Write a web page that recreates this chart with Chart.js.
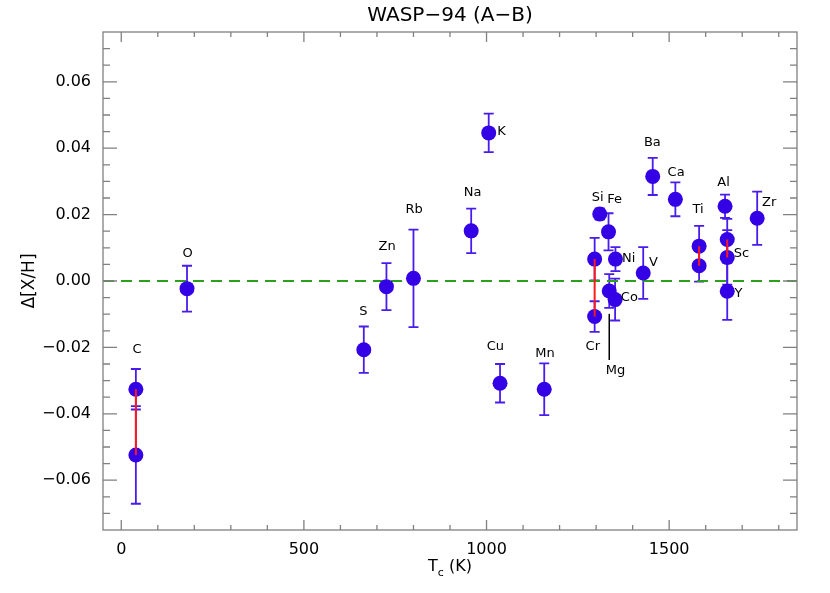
<!DOCTYPE html>
<html>
<head>
<meta charset="utf-8">
<script src="https://cdn.jsdelivr.net/npm/chart.js@4"></script>
<style>
  body { margin: 0; background: #fff; }
</style>
</head>
<body>
<canvas id="myChart" width="830" height="593"></canvas>
<script>
// one entry per measured point (elements with two values appear twice)
const elements = ['C', 'C', 'O', 'S', 'Zn', 'Rb', 'Na', 'K', 'Cu', 'Mn', 'Cr', 'Cr', 'Si', 'Fe', 'Mg', 'Co', 'Ni', 'V', 'Ba', 'Ca', 'Ti', 'Ti', 'Al', 'Sc', 'Sc', 'Y', 'Zr'];
const tc = [40, 40, 180, 664, 726, 800, 958, 1006, 1037, 1158, 1296, 1296, 1310, 1334, 1336, 1352, 1353, 1429, 1455, 1517, 1582, 1582, 1653, 1659, 1659, 1659, 1741];
const dXH = [-0.0326, -0.0524, -0.0023, -0.0207, -0.0017, 0.0008, 0.0151, 0.0446, -0.0308, -0.0326, 0.0066, -0.0107, 0.0202, 0.0148, -0.0030, -0.0056, 0.0066, 0.0024, 0.0315, 0.0246, 0.0105, 0.0046, 0.0225, 0.0125, 0.0071, -0.0031, 0.0189];
const errs = [0.0061, 0.0147, 0.0069, 0.0070, 0.0071, 0.0147, 0.0067, 0.0058, 0.0058, 0.0078, 0.0064, 0.0046, 0.0017, 0.0056, 0.0051, 0.0063, 0.0036, 0.0078, 0.0056, 0.0051, 0.0061, 0.0048, 0.0035, 0.0062, 0.0082, 0.0086, 0.0080];

// element labels, placed in data coordinates
const labelNames = ['C', 'O', 'S', 'Zn', 'Rb', 'Na', 'K', 'Cu', 'Mn', 'Cr', 'Si', 'Fe', 'Mg', 'Co', 'Ni', 'V', 'Ba', 'Ca', 'Ti', 'Al', 'Sc', 'Y', 'Zr'];
const labelTc = [43, 182, 663, 728, 802, 962, 1041, 1024, 1160, 1291, 1304, 1351, 1353, 1391, 1389, 1457, 1454, 1519, 1579, 1649, 1698, 1690, 1774];
const labelVal = [-0.0208, 0.0082, -0.0092, 0.0104, 0.0214, 0.0266, 0.0449, -0.0198, -0.0220, -0.0198, 0.0250, 0.0244, -0.0269, -0.0049, 0.0067, 0.0055, 0.0418, 0.0327, 0.0214, 0.0296, 0.0082, -0.0037, 0.0235];

// tick labels
const xTicks = [0, 500, 1000, 1500];
const yTicks = [-0.06, -0.04, -0.02, 0, 0.02, 0.04, 0.06];

// Mg leader line
const mgLine = [-0.0099, -0.0238];

const xMin = -50, xMax = 1850;
const yMin = -0.075, yMax = 0.075;
const fontName = "'DejaVu Sans', sans-serif";

window.addEventListener('load', setup);

function setup() {
    const ctx = document.getElementById('myChart').getContext('2d');

    const points = tc.map((t, i) => ({x: t, y: dXH[i]}));

    // red lines join the two values of the same element
    const pairSets = [];
    elements.forEach((el, i) => {
        const j = elements.indexOf(el);
        if (j !== i) {
            pairSets.push({
                type: 'line',
                data: [points[j], points[i]],
                borderColor: '#ff1a1a',
                borderWidth: 2,
                pointRadius: 0,
                order: 0
            });
        }
    });

    const decor = {
        id: 'decor',
        beforeDatasetsDraw(chart) {
            const c = chart.ctx;
            const xs = chart.scales.x, ys = chart.scales.y;
            c.save();
            c.strokeStyle = '#4a1cec';
            c.lineWidth = 1.8;
            tc.forEach((t, i) => {
                const px = xs.getPixelForValue(t);
                const top = ys.getPixelForValue(dXH[i] + errs[i]);
                const bot = ys.getPixelForValue(dXH[i] - errs[i]);
                c.beginPath();
                c.moveTo(px, top); c.lineTo(px, bot);
                c.moveTo(px - 5, top); c.lineTo(px + 5, top);
                c.moveTo(px - 5, bot); c.lineTo(px + 5, bot);
                c.stroke();
            });
            c.restore();
        },
        afterDraw(chart) {
            const c = chart.ctx;
            const a = chart.chartArea;
            const xs = chart.scales.x, ys = chart.scales.y;
            c.save();
            // frame
            c.strokeStyle = '#808080';
            c.lineWidth = 1.3;
            c.strokeRect(a.left, a.top, a.right - a.left, a.bottom - a.top);
            // x ticks, top and bottom
            c.beginPath();
            for (let v = 0; v <= 1800; v += 100) {
                const px = xs.getPixelForValue(v);
                const len = v % 500 === 0 ? 10 : 5;
                c.moveTo(px, a.bottom); c.lineTo(px, a.bottom - len);
                c.moveTo(px, a.top); c.lineTo(px, a.top + len);
            }
            // y ticks, left and right
            for (let i = -14; i <= 14; i++) {
                const py = ys.getPixelForValue(i * 0.005);
                const len = i % 4 === 0 ? 14 : 7;
                c.moveTo(a.left, py); c.lineTo(a.left + len, py);
                c.moveTo(a.right, py); c.lineTo(a.right - len, py);
            }
            c.stroke();

            // Mg leader
            c.strokeStyle = '#000';
            c.lineWidth = 1.5;
            c.beginPath();
            const mx = xs.getPixelForValue(1336);
            c.moveTo(mx, ys.getPixelForValue(mgLine[0]));
            c.lineTo(mx, ys.getPixelForValue(mgLine[1]));
            c.stroke();

            // element labels
            c.fillStyle = '#000';
            c.font = '13px ' + fontName;
            c.textAlign = 'center';
            c.textBaseline = 'middle';
            labelNames.forEach((n, i) => {
                c.fillText(n, xs.getPixelForValue(labelTc[i]), ys.getPixelForValue(labelVal[i]));
            });

            // title
            const cx = (a.left + a.right) / 2;
            c.font = '20px ' + fontName;
            c.fillText('WASP\u221294 (A\u2212B)', cx, 16);

            // x axis title with subscript
            c.font = '16px ' + fontName;
            c.textAlign = 'left';
            const w1 = c.measureText('T').width;
            c.font = '11px ' + fontName;
            const w2 = c.measureText('c').width;
            c.font = '16px ' + fontName;
            const w3 = c.measureText(' (K)').width;
            let sx = cx - (w1 + w2 + w3) / 2;
            c.fillText('T', sx, 567);
            c.font = '11px ' + fontName;
            c.fillText('c', sx + w1, 573);
            c.font = '16px ' + fontName;
            c.fillText(' (K)', sx + w1 + w2, 567);

            // y axis title
            c.translate(30, (a.top + a.bottom) / 2);
            c.rotate(-Math.PI / 2);
            c.textAlign = 'center';
            c.font = '17px ' + fontName;
            c.fillText('\u0394[X/H]', 0, 0);
            c.restore();
        }
    };

    new Chart(ctx, {
        type: 'scatter',
        data: {
            datasets: [
                {
                    label: 'abundances',
                    data: points,
                    backgroundColor: '#3400e6',
                    borderWidth: 0,
                    pointRadius: 7.5,
                    pointHoverRadius: 7.5,
                    order: 1
                },
                ...pairSets,
                {
                    type: 'line',
                    data: [{x: xMin, y: 0}, {x: xMax, y: 0}],
                    borderColor: '#2ca01c',
                    borderWidth: 2,
                    borderDash: [11, 7],
                    pointRadius: 0,
                    order: 2
                }
            ]
        },
        options: {
            responsive: false,
            animation: false,
            devicePixelRatio: 1,
            layout: { padding: { top: 32, right: 33, left: 0, bottom: 0 } },
            plugins: {
                legend: { display: false },
                tooltip: { enabled: false },
                title: { display: false }
            },
            scales: {
                x: {
                    type: 'linear',
                    min: xMin,
                    max: xMax,
                    grid: { display: false, drawTicks: false },
                    border: { display: false },
                    ticks: {
                        padding: 10,
                        color: '#000',
                        font: { family: fontName, size: 16 },
                        callback: v => String(v)
                    },
                    afterBuildTicks: s => { s.ticks = xTicks.map(v => ({value: v})); },
                    afterFit: s => { s.height = 63; }
                },
                y: {
                    min: yMin,
                    max: yMax,
                    grid: { display: false, drawTicks: false },
                    border: { display: false },
                    ticks: {
                        padding: 12,
                        color: '#000',
                        font: { family: fontName, size: 16 },
                        callback: v => v.toFixed(2).replace('-', '\u2212')
                    },
                    afterBuildTicks: s => { s.ticks = yTicks.map(v => ({value: v})); },
                    afterFit: s => { s.width = 103; }
                }
            }
        },
        plugins: [decor]
    });
}
</script>
</body>
</html>
